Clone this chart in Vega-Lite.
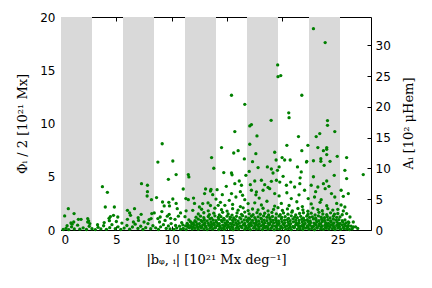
{
"$schema": "https://vega.github.io/schema/vega-lite/v6.json",
"width": 310, "height": 213,
"autosize": "none",
"padding": {"left": 61, "top": 17, "right": 61, "bottom": 58},
"background": "white",
"config": {
 "view": {"stroke": "#000", "strokeWidth": 1},
 "axis": {"labelFont": "DejaVu Sans", "labelFontSize": 12, "labelColor": "#000", "titleFont": "DejaVu Serif", "titleFontSize": 13, "titleFontWeight": "normal", "titleColor": "#000", "grid": false, "domain": false, "ticks": true, "tickColor": "#000", "tickSize": 4, "tickWidth": 1, "offset": -4, "zindex": 2},
 "axisY": {"ticks": true, "tickColor": "#000", "tickSize": 4, "tickWidth": 1}
},
"datasets": {
 "bands": [{"x0": 0, "x1": 2.8}, {"x0": 5.6, "x1": 8.4}, {"x0": 11.2, "x1": 14}, {"x0": 16.8, "x1": 19.6}, {"x0": 22.4, "x1": 25.2}],
 "pts": [
{"x":22.8,"y":18.9},{"x":23.86,"y":17.6},{"x":19.57,"y":15.5},{"x":19.6,"y":14.4},{"x":19.85,"y":14.5},
{"x":15.4,"y":12.65},{"x":16.6,"y":11.8},{"x":18.98,"y":10.3},{"x":17.2,"y":9.9},{"x":17.05,"y":9.77},{"x":15.7,"y":9.24},{"x":17.7,"y":8.83},{"x":17.05,"y":8.05},{"x":14.5,"y":7.74},{"x":16.0,"y":7.45},{"x":15.6,"y":7.23},{"x":17.6,"y":7.17},{"x":19.3,"y":7.3},{"x":13.6,"y":6.8},{"x":16.56,"y":6.67},{"x":19.43,"y":6.57},{"x":10.1,"y":6.48},{"x":17.3,"y":6.42},
{"x":21.75,"y":12.65},{"x":20.57,"y":11.0},{"x":20.6,"y":10.55},{"x":24.07,"y":10.27},{"x":24.07,"y":9.83},{"x":23.37,"y":9.05},{"x":24.73,"y":9.24},{"x":23.05,"y":8.77},{"x":21.45,"y":8.77},{"x":20.4,"y":7.95},{"x":22.3,"y":7.95},{"x":23.2,"y":7.74},{"x":24.0,"y":7.74},{"x":24.0,"y":7.58},{"x":23.7,"y":7.45},{"x":21.75,"y":7.45},{"x":24.0,"y":7.08},{"x":24.95,"y":6.92},{"x":25.8,"y":6.8},{"x":19.97,"y":6.8},{"x":20.2,"y":6.57},{"x":20.7,"y":6.57},{"x":23.47,"y":6.7},{"x":22.8,"y":6.5},{"x":22.2,"y":6.45},{"x":23.47,"y":6.45},{"x":24.3,"y":6.45},
{"x":9.14,"y":8.1},{"x":8.75,"y":6.38},{"x":9.7,"y":4.76},{"x":3.74,"y":4.07},{"x":4.19,"y":3.54},{"x":7.27,"y":4.35},{"x":7.81,"y":4.2},{"x":7.81,"y":3.6},{"x":7.78,"y":3.19},{"x":8.17,"y":2.85},{"x":8.63,"y":3.04},{"x":9.17,"y":2.63},{"x":9.74,"y":2.6},{"x":9.32,"y":2.26},{"x":9.8,"y":2.26},{"x":9.11,"y":1.73},{"x":4.0,"y":2.16},{"x":4.82,"y":2.16},{"x":0.66,"y":2.0},{"x":1.18,"y":1.54},{"x":0.33,"y":1.32},{"x":6.64,"y":2.0},{"x":6.0,"y":1.85},{"x":6.2,"y":1.6},{"x":6.28,"y":1.38},{"x":6.54,"y":0.75},{"x":4.74,"y":1.38},{"x":4.46,"y":1.26},{"x":4.34,"y":1.1},{"x":4.37,"y":0.88},{"x":5.13,"y":1.22},{"x":1.57,"y":1.0},{"x":1.81,"y":1.0},{"x":2.41,"y":1.07},{"x":2.41,"y":0.75},{"x":0.9,"y":0.66},{"x":1.15,"y":0.75},{"x":8.14,"y":1.07},{"x":8.2,"y":1.54},{"x":8.42,"y":1.6},{"x":8.75,"y":1.07},{"x":8.96,"y":1.22},{"x":9.77,"y":1.47},{"x":7.24,"y":1.47},{"x":6.97,"y":1.16},{"x":7.5,"y":0.75},{"x":7.96,"y":0.98},
{"x":10.4,"y":5.2},{"x":11.5,"y":5.2},{"x":11.55,"y":4.98},{"x":13.8,"y":5.8},{"x":14.7,"y":5.39},{"x":15.4,"y":5.35},{"x":15.45,"y":5.18},{"x":16.7,"y":5.13},{"x":17.0,"y":5.5},{"x":17.8,"y":5.86},{"x":18.64,"y":5.92},{"x":19.0,"y":5.73},{"x":19.15,"y":5.35},{"x":19.55,"y":5.6},{"x":19.7,"y":5.92},{"x":11.04,"y":3.85},{"x":10.1,"y":2.91},{"x":10.4,"y":2.5},{"x":11.28,"y":2.95},{"x":11.5,"y":2.85},{"x":11.97,"y":3.0},{"x":12.06,"y":2.5},{"x":12.97,"y":3.42},{"x":13.06,"y":3.85},{"x":13.5,"y":3.66},{"x":13.7,"y":3.32},{"x":13.55,"y":3.8},{"x":14.1,"y":3.79},{"x":14.57,"y":3.32},{"x":14.93,"y":4.1},{"x":15.7,"y":4.35},{"x":16.1,"y":4.6},{"x":16.3,"y":4.2},{"x":17.1,"y":4.26},{"x":17.5,"y":4.6},{"x":18.1,"y":4.67},{"x":18.4,"y":4.26},{"x":19.0,"y":4.57},{"x":19.46,"y":4.67},{"x":19.76,"y":4.5},{"x":17.2,"y":3.73},{"x":17.65,"y":3.57},{"x":18.25,"y":3.73},{"x":18.85,"y":3.88},{"x":19.3,"y":3.42},{"x":15.4,"y":3.42},{"x":15.2,"y":2.79},{"x":15.8,"y":3.1},{"x":16.4,"y":3.26},{"x":16.6,"y":2.85},{"x":16.9,"y":2.48},{"x":12.8,"y":2.48},{"x":13.28,"y":2.54},{"x":14.2,"y":2.32},{"x":14.8,"y":2.32},{"x":12.5,"y":2.16},
{"x":21.36,"y":5.92},{"x":21.7,"y":5.45},{"x":22.17,"y":6.38},{"x":23.77,"y":6.07},{"x":24.68,"y":5.13},{"x":25.64,"y":5.6},{"x":25.8,"y":4.83},{"x":27.3,"y":5.2},{"x":20.06,"y":5.04},{"x":20.36,"y":4.2},{"x":20.75,"y":4.5},{"x":21.1,"y":4.04},{"x":21.57,"y":4.35},{"x":22.0,"y":3.73},{"x":22.6,"y":4.2},{"x":23.2,"y":4.04},{"x":23.7,"y":4.35},{"x":23.86,"y":3.88},{"x":24.43,"y":3.42},{"x":25.3,"y":3.73},{"x":25.5,"y":3.16},{"x":25.95,"y":3.42},{"x":24.73,"y":3.1},{"x":22.9,"y":3.1},{"x":22.33,"y":2.95},{"x":20.8,"y":2.95},{"x":25.64,"y":2.16},{"x":26.1,"y":1.22},{"x":26.4,"y":0.75},{"x":26.4,"y":0.28},{"x":25.95,"y":0.75},{"x":25.8,"y":1.54},
{"x":9.85,"y":0.1},{"x":10.2,"y":0.05},{"x":10.45,"y":0.18},{"x":10.8,"y":0.08},{"x":11.05,"y":0.14},{"x":11.3,"y":0.04},{"x":11.6,"y":0.2},{"x":11.85,"y":0.09},{"x":12.1,"y":0.15},{"x":12.4,"y":0.06},{"x":12.65,"y":0.19},{"x":12.9,"y":0.1},{"x":13.2,"y":0.04},{"x":13.45,"y":0.16},{"x":13.7,"y":0.08},{"x":13.95,"y":0.2},{"x":14.25,"y":0.05},{"x":14.5,"y":0.13},{"x":14.75,"y":0.07},{"x":15.0,"y":0.18},{"x":15.3,"y":0.1},{"x":15.55,"y":0.03},{"x":15.8,"y":0.15},{"x":16.05,"y":0.09},{"x":16.35,"y":0.2},{"x":16.6,"y":0.06},{"x":16.85,"y":0.14},{"x":17.1,"y":0.04},{"x":17.4,"y":0.17},{"x":17.65,"y":0.09},{"x":17.9,"y":0.12},{"x":18.2,"y":0.05},{"x":18.45,"y":0.19},{"x":18.7,"y":0.08},{"x":18.95,"y":0.15},{"x":19.25,"y":0.03},{"x":19.5,"y":0.13},{"x":19.75,"y":0.1},{"x":20.0,"y":0.18},{"x":20.3,"y":0.06},{"x":20.55,"y":0.14},{"x":20.8,"y":0.04},{"x":21.05,"y":0.2},{"x":21.35,"y":0.09},{"x":21.6,"y":0.12},{"x":21.85,"y":0.05},{"x":22.1,"y":0.17},{"x":22.4,"y":0.08},{"x":22.65,"y":0.15},{"x":22.9,"y":0.03},{"x":23.15,"y":0.19},{"x":23.45,"y":0.1},{"x":23.7,"y":0.06},{"x":23.95,"y":0.16},{"x":24.2,"y":0.09},{"x":24.5,"y":0.13},{"x":24.75,"y":0.04},{"x":25.0,"y":0.18},{"x":25.25,"y":0.07},{"x":25.55,"y":0.14},{"x":25.8,"y":0.1},{"x":26.05,"y":0.05},{"x":26.3,"y":0.12},
{"x":11.45,"y":0.27},{"x":11.95,"y":0.3},{"x":12.35,"y":0.24},{"x":12.7,"y":0.29},{"x":13.1,"y":0.26},{"x":13.55,"y":0.31},{"x":13.9,"y":0.23},{"x":14.35,"y":0.28},{"x":14.7,"y":0.25},{"x":15.15,"y":0.3},{"x":15.5,"y":0.24},{"x":15.95,"y":0.27},{"x":16.25,"y":0.31},{"x":16.7,"y":0.23},{"x":17.0,"y":0.29},{"x":17.5,"y":0.26},{"x":17.85,"y":0.3},{"x":18.3,"y":0.24},{"x":18.65,"y":0.28},{"x":19.05,"y":0.25},{"x":19.45,"y":0.31},{"x":19.9,"y":0.23},{"x":20.25,"y":0.29},{"x":20.7,"y":0.26},{"x":21.1,"y":0.3},{"x":21.5,"y":0.24},{"x":21.9,"y":0.28},{"x":22.3,"y":0.25},{"x":22.7,"y":0.31},{"x":23.1,"y":0.23},{"x":23.5,"y":0.29},{"x":23.9,"y":0.26},{"x":24.3,"y":0.3},{"x":24.7,"y":0.24},{"x":25.1,"y":0.28},{"x":25.5,"y":0.25},{"x":25.9,"y":0.27},
{"x":10.35,"y":0.42},{"x":10.7,"y":0.36},{"x":11.0,"y":0.48},{"x":11.25,"y":0.39},{"x":11.5,"y":0.45},{"x":11.75,"y":0.33},{"x":12.0,"y":0.5},{"x":12.25,"y":0.4},{"x":12.55,"y":0.35},{"x":12.8,"y":0.47},{"x":13.05,"y":0.38},{"x":13.35,"y":0.44},{"x":13.6,"y":0.34},{"x":13.85,"y":0.49},{"x":14.1,"y":0.41},{"x":14.35,"y":0.36},{"x":14.6,"y":0.46},{"x":14.85,"y":0.39},{"x":15.1,"y":0.43},{"x":15.4,"y":0.33},{"x":15.65,"y":0.48},{"x":15.9,"y":0.4},{"x":16.2,"y":0.37},{"x":16.45,"y":0.45},{"x":16.7,"y":0.35},{"x":16.95,"y":0.49},{"x":17.2,"y":0.42},{"x":17.5,"y":0.36},{"x":17.75,"y":0.46},{"x":18.05,"y":0.38},{"x":18.3,"y":0.44},{"x":18.55,"y":0.34},{"x":18.8,"y":0.48},{"x":19.1,"y":0.41},{"x":19.35,"y":0.37},{"x":19.6,"y":0.45},{"x":19.85,"y":0.35},{"x":20.15,"y":0.47},{"x":20.4,"y":0.39},{"x":20.65,"y":0.43},{"x":20.95,"y":0.33},{"x":21.2,"y":0.49},{"x":21.45,"y":0.4},{"x":21.7,"y":0.36},{"x":21.95,"y":0.46},{"x":22.25,"y":0.38},{"x":22.5,"y":0.44},{"x":22.8,"y":0.34},{"x":23.05,"y":0.48},{"x":23.3,"y":0.41},{"x":23.6,"y":0.37},{"x":23.85,"y":0.45},{"x":24.1,"y":0.35},{"x":24.35,"y":0.47},{"x":24.6,"y":0.39},{"x":24.9,"y":0.43},{"x":25.15,"y":0.33},{"x":25.4,"y":0.46},{"x":25.7,"y":0.38},{"x":25.95,"y":0.42},{"x":26.2,"y":0.36},
{"x":11.8,"y":0.57},{"x":12.3,"y":0.55},{"x":12.95,"y":0.58},{"x":13.6,"y":0.54},{"x":14.2,"y":0.56},{"x":14.9,"y":0.53},{"x":15.45,"y":0.57},{"x":15.95,"y":0.55},{"x":16.55,"y":0.54},{"x":17.05,"y":0.58},{"x":17.6,"y":0.55},{"x":18.25,"y":0.53},{"x":18.85,"y":0.57},{"x":19.55,"y":0.54},{"x":20.05,"y":0.56},{"x":20.6,"y":0.55},{"x":21.3,"y":0.58},{"x":21.85,"y":0.53},{"x":22.4,"y":0.56},{"x":22.95,"y":0.55},{"x":23.45,"y":0.57},{"x":24.0,"y":0.54},{"x":24.55,"y":0.56},{"x":25.05,"y":0.55},{"x":25.6,"y":0.53},
{"x":10.9,"y":0.7},{"x":11.4,"y":0.62},{"x":11.7,"y":0.78},{"x":11.95,"y":0.66},{"x":12.2,"y":0.74},{"x":12.5,"y":0.6},{"x":12.75,"y":0.8},{"x":13.0,"y":0.68},{"x":13.3,"y":0.63},{"x":13.55,"y":0.76},{"x":13.8,"y":0.65},{"x":14.05,"y":0.72},{"x":14.3,"y":0.6},{"x":14.55,"y":0.79},{"x":14.8,"y":0.67},{"x":15.05,"y":0.73},{"x":15.3,"y":0.61},{"x":15.55,"y":0.77},{"x":15.8,"y":0.69},{"x":16.1,"y":0.64},{"x":16.35,"y":0.75},{"x":16.6,"y":0.62},{"x":16.85,"y":0.8},{"x":17.15,"y":0.7},{"x":17.4,"y":0.65},{"x":17.65,"y":0.74},{"x":17.9,"y":0.6},{"x":18.15,"y":0.78},{"x":18.4,"y":0.68},{"x":18.7,"y":0.63},{"x":18.95,"y":0.76},{"x":19.2,"y":0.66},{"x":19.45,"y":0.72},{"x":19.7,"y":0.61},{"x":19.95,"y":0.79},{"x":20.2,"y":0.67},{"x":20.5,"y":0.73},{"x":20.75,"y":0.6},{"x":21.0,"y":0.77},{"x":21.25,"y":0.69},{"x":21.5,"y":0.64},{"x":21.8,"y":0.75},{"x":22.05,"y":0.62},{"x":22.3,"y":0.8},{"x":22.55,"y":0.7},{"x":22.85,"y":0.65},{"x":23.1,"y":0.74},{"x":23.35,"y":0.6},{"x":23.6,"y":0.78},{"x":23.9,"y":0.68},{"x":24.15,"y":0.63},{"x":24.4,"y":0.76},{"x":24.65,"y":0.66},{"x":24.95,"y":0.72},{"x":25.2,"y":0.61},{"x":25.45,"y":0.75},{"x":25.75,"y":0.67},{"x":26.0,"y":0.7},
{"x":11.55,"y":0.95},{"x":12.1,"y":0.88},{"x":12.4,"y":1.02},{"x":12.65,"y":0.9},{"x":12.95,"y":0.97},{"x":13.2,"y":0.86},{"x":13.45,"y":1.04},{"x":13.75,"y":0.93},{"x":14.0,"y":0.87},{"x":14.25,"y":1.0},{"x":14.5,"y":0.91},{"x":14.75,"y":0.96},{"x":15.0,"y":0.85},{"x":15.25,"y":1.03},{"x":15.5,"y":0.92},{"x":15.75,"y":0.98},{"x":16.0,"y":0.86},{"x":16.25,"y":1.05},{"x":16.55,"y":0.94},{"x":16.8,"y":0.89},{"x":17.05,"y":1.01},{"x":17.3,"y":0.9},{"x":17.6,"y":0.97},{"x":17.85,"y":0.85},{"x":18.1,"y":1.04},{"x":18.35,"y":0.93},{"x":18.6,"y":0.88},{"x":18.9,"y":1.0},{"x":19.15,"y":0.91},{"x":19.4,"y":0.96},{"x":19.65,"y":0.86},{"x":19.9,"y":1.03},{"x":20.2,"y":0.92},{"x":20.45,"y":0.98},{"x":20.7,"y":0.87},{"x":20.95,"y":1.05},{"x":21.2,"y":0.94},{"x":21.5,"y":0.89},{"x":21.75,"y":1.01},{"x":22.0,"y":0.9},{"x":22.25,"y":0.97},{"x":22.5,"y":0.85},{"x":22.8,"y":1.04},{"x":23.05,"y":0.93},{"x":23.3,"y":0.88},{"x":23.55,"y":1.0},{"x":23.8,"y":0.91},{"x":24.1,"y":0.96},{"x":24.35,"y":0.86},{"x":24.6,"y":1.02},{"x":24.85,"y":0.92},{"x":25.1,"y":0.98},{"x":25.4,"y":0.87},{"x":25.65,"y":0.95},
{"x":12.2,"y":1.2},{"x":12.6,"y":1.3},{"x":12.9,"y":1.15},{"x":13.3,"y":1.27},{"x":13.6,"y":1.12},{"x":13.9,"y":1.33},{"x":14.2,"y":1.18},{"x":14.45,"y":1.25},{"x":14.7,"y":1.1},{"x":15.0,"y":1.3},{"x":15.3,"y":1.2},{"x":15.6,"y":1.14},{"x":15.85,"y":1.28},{"x":16.15,"y":1.16},{"x":16.4,"y":1.34},{"x":16.7,"y":1.22},{"x":16.95,"y":1.11},{"x":17.2,"y":1.29},{"x":17.5,"y":1.17},{"x":17.8,"y":1.24},{"x":18.05,"y":1.12},{"x":18.3,"y":1.32},{"x":18.6,"y":1.2},{"x":18.85,"y":1.15},{"x":19.1,"y":1.27},{"x":19.4,"y":1.13},{"x":19.7,"y":1.3},{"x":19.95,"y":1.19},{"x":20.25,"y":1.25},{"x":20.55,"y":1.1},{"x":20.8,"y":1.33},{"x":21.1,"y":1.21},{"x":21.35,"y":1.16},{"x":21.65,"y":1.28},{"x":21.9,"y":1.12},{"x":22.2,"y":1.3},{"x":22.45,"y":1.18},{"x":22.7,"y":1.24},{"x":23.0,"y":1.11},{"x":23.25,"y":1.32},{"x":23.5,"y":1.2},{"x":23.8,"y":1.15},{"x":24.05,"y":1.27},{"x":24.3,"y":1.13},{"x":24.6,"y":1.29},{"x":24.9,"y":1.19},{"x":25.2,"y":1.23},
{"x":12.4,"y":1.5},{"x":12.9,"y":1.62},{"x":13.4,"y":1.45},{"x":13.8,"y":1.58},{"x":14.3,"y":1.42},{"x":14.6,"y":1.66},{"x":15.1,"y":1.5},{"x":15.45,"y":1.4},{"x":15.9,"y":1.6},{"x":16.3,"y":1.47},{"x":16.6,"y":1.68},{"x":17.0,"y":1.52},{"x":17.35,"y":1.43},{"x":17.7,"y":1.63},{"x":18.0,"y":1.48},{"x":18.4,"y":1.57},{"x":18.75,"y":1.41},{"x":19.05,"y":1.65},{"x":19.45,"y":1.51},{"x":19.8,"y":1.44},{"x":20.1,"y":1.6},{"x":20.5,"y":1.49},{"x":20.85,"y":1.67},{"x":21.2,"y":1.42},{"x":21.55,"y":1.56},{"x":21.9,"y":1.62},{"x":22.3,"y":1.46},{"x":22.6,"y":1.58},{"x":22.95,"y":1.41},{"x":23.3,"y":1.66},{"x":23.65,"y":1.5},{"x":24.0,"y":1.44},{"x":24.35,"y":1.61},{"x":24.7,"y":1.48},{"x":25.0,"y":1.55},{"x":25.4,"y":1.43},
{"x":11.9,"y":1.85},{"x":12.7,"y":1.95},{"x":13.3,"y":1.8},{"x":13.9,"y":2.05},{"x":14.5,"y":1.9},{"x":15.0,"y":1.78},{"x":15.5,"y":2.0},{"x":16.0,"y":1.86},{"x":16.45,"y":2.08},{"x":16.9,"y":1.82},{"x":17.3,"y":1.97},{"x":17.8,"y":1.88},{"x":18.25,"y":2.04},{"x":18.7,"y":1.79},{"x":19.2,"y":1.93},{"x":19.6,"y":2.1},{"x":20.0,"y":1.84},{"x":20.45,"y":1.98},{"x":20.9,"y":1.8},{"x":21.4,"y":2.02},{"x":21.85,"y":1.89},{"x":22.3,"y":1.76},{"x":22.75,"y":2.06},{"x":23.2,"y":1.92},{"x":23.6,"y":1.81},{"x":24.1,"y":2.0},{"x":24.55,"y":1.87},{"x":25.0,"y":1.94},{"x":25.5,"y":1.79},
{"x":13.5,"y":2.3},{"x":14.4,"y":2.6},{"x":15.5,"y":2.4},{"x":16.2,"y":2.2},{"x":17.5,"y":2.55},{"x":18.1,"y":2.35},{"x":18.6,"y":2.7},{"x":19.3,"y":2.25},{"x":19.9,"y":2.5},{"x":20.6,"y":2.3},{"x":21.3,"y":2.65},{"x":21.8,"y":2.2},{"x":22.6,"y":2.45},{"x":23.4,"y":2.6},{"x":24.0,"y":2.28},{"x":24.9,"y":2.5},{"x":25.3,"y":2.35},
{"x":14.0,"y":2.9},{"x":16.2,"y":3.6},{"x":17.9,"y":3.0},{"x":19.7,"y":3.2},{"x":20.4,"y":3.5},{"x":21.5,"y":3.3},{"x":23.0,"y":3.6},{"x":23.5,"y":2.85},{"x":24.2,"y":4.1},{"x":18.7,"y":4.0},{"x":21.6,"y":4.9},{"x":22.8,"y":5.0},{"x":24.0,"y":4.6},{"x":17.6,"y":3.3},
{"x":0.2,"y":0.05},{"x":0.45,"y":0.15},{"x":0.7,"y":0.03},{"x":0.95,"y":0.3},{"x":1.2,"y":0.1},{"x":1.5,"y":0.45},{"x":1.7,"y":0.08},{"x":2.0,"y":0.2},{"x":2.3,"y":0.05},{"x":2.55,"y":0.35},{"x":2.8,"y":0.12},{"x":3.1,"y":0.04},{"x":3.35,"y":0.25},{"x":3.6,"y":0.1},{"x":3.85,"y":0.4},{"x":4.1,"y":0.06},{"x":4.4,"y":0.22},{"x":4.6,"y":0.5},{"x":4.9,"y":0.12},{"x":5.15,"y":0.3},{"x":5.4,"y":0.05},{"x":5.7,"y":0.18},{"x":5.95,"y":0.42},{"x":6.2,"y":0.08},{"x":6.45,"y":0.28},{"x":6.7,"y":0.55},{"x":6.95,"y":0.15},{"x":7.2,"y":0.35},{"x":7.4,"y":0.05},{"x":7.65,"y":0.22},{"x":7.85,"y":0.6},{"x":8.1,"y":0.12},{"x":8.3,"y":0.4},{"x":8.55,"y":0.2},{"x":8.8,"y":0.05},{"x":9.0,"y":0.3},{"x":9.25,"y":0.5},{"x":9.5,"y":0.15},{"x":9.7,"y":0.38},{"x":9.95,"y":0.6},{"x":2.6,"y":0.6},{"x":1.0,"y":0.55},{"x":3.3,"y":0.5},{"x":5.5,"y":0.65},{"x":0.55,"y":0.4},{"x":8.9,"y":0.75},{"x":7.0,"y":0.9},{"x":9.4,"y":0.9},{"x":9.9,"y":1.1},{"x":9.6,"y":1.3},{"x":10.3,"y":1.0},{"x":10.6,"y":1.3},{"x":11.2,"y":1.25},{"x":10.8,"y":1.6},{"x":11.3,"y":1.8},{"x":10.5,"y":2.0},{"x":2.5,"y":0.85},{"x":3.9,"y":0.7},{"x":5.0,"y":0.8},{"x":6.0,"y":1.0},{"x":26.6,"y":0.3},{"x":26.8,"y":0.15}
 ]
},
"layer": [
 {"data": {"name": "bands"}, "mark": {"type": "rect", "color": "#d9d9d9"},
  "encoding": {
   "x": {"field": "x0", "type": "quantitative", "scale": {"domain": [0, 28], "nice": false}, "axis": {"orient": "top", "labels": false, "title": null, "values": [0, 5, 10, 15, 20, 25]}},
   "x2": {"field": "x1"}
  }},
 {"data": {"name": "pts"}, "mark": {"type": "circle", "size": 11, "color": "#008000", "opacity": 1},
  "encoding": {
   "x": {"field": "x", "type": "quantitative", "scale": {"domain": [0, 28], "nice": false}, "axis": {"values": [0, 5, 10, 15, 20, 25], "title": "|bᵩ, ᵢ| [10²¹ Mx deg⁻¹]", "labelPadding": 4, "titlePadding": 8}},
   "y": {"field": "y", "type": "quantitative", "scale": {"domain": [0, 20], "nice": false}, "axis": {"values": [0, 5, 10, 15, 20], "title": "Φᵢ / 2 [10²¹ Mx]", "labelPadding": 6, "titlePadding": 10}}
  }},
 {"data": {"values": [{"a": 0}]}, "mark": {"type": "point", "opacity": 0},
  "encoding": {
   "y": {"field": "a", "type": "quantitative", "scale": {"domain": [0, 34.6], "nice": false}, "axis": {"orient": "right", "values": [0, 5, 10, 15, 20, 25, 30], "title": "Aᵢ [10² μHem]", "titleAngle": 270, "titleX": 41, "titleY": 106, "titleAlign": "center", "titleBaseline": "middle", "labelPadding": 4}}
  }}
],
"resolve": {"scale": {"y": "independent"}, "axis": {"x": "independent", "y": "independent"}}
}
